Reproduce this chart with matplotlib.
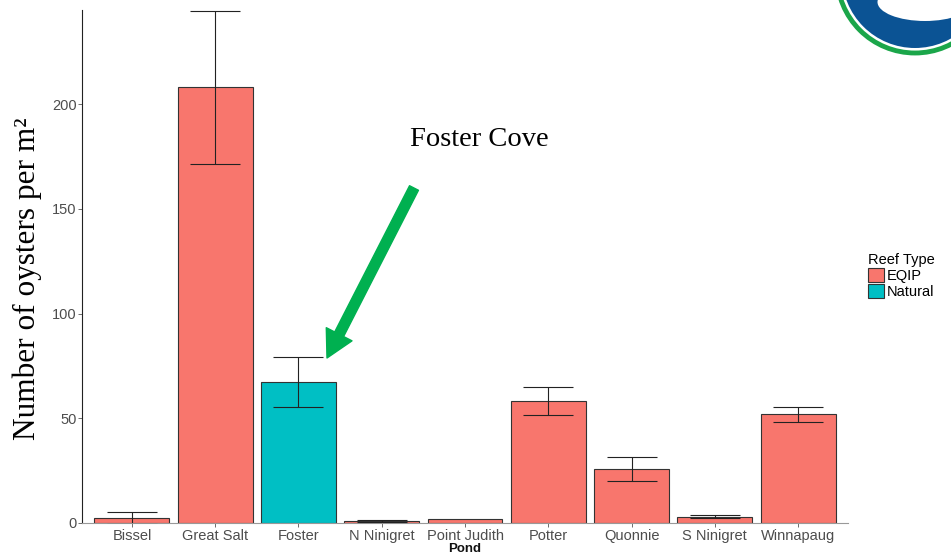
import matplotlib.pyplot as plt
from matplotlib.patches import Circle, Ellipse, Patch
import numpy as np

# Oyster density by pond, mean +/- standard error
ponds = ["Bissel", "Great Salt", "Foster", "N Ninigret", "Point Judith",
         "Potter", "Quonnie", "S Ninigret", "Winnapaug"]
reef_type = ["EQIP", "EQIP", "Natural", "EQIP", "EQIP",
             "EQIP", "EQIP", "EQIP", "EQIP"]
density = [2.5, 208, 67.3, 1.0, 1.7, 58.2, 25.8, 3.0, 52.0]
std_err = [2.8, 36.5, 11.9, 0.4, np.nan, 6.7, 5.7, 0.7, 3.6]

type_colors = {"EQIP": "#F8766D", "Natural": "#00BFC4"}

plt.rcParams['font.family'] = ['Liberation Sans', 'DejaVu Sans']

fig = plt.figure(figsize=(9.51, 5.53), dpi=100)
ax = fig.add_axes([82 / 951, 30 / 553, (848 - 82) / 951, (523 - 10) / 553])

x = np.arange(len(ponds))
colors = [type_colors[t] for t in reef_type]
ax.bar(x, density, width=0.9, color=colors, edgecolor="#333333", linewidth=0.8, zorder=2)

# error bars only where a standard error exists
se = np.array(std_err)
ok = ~np.isnan(se)
ax.errorbar(x[ok], np.array(density)[ok], yerr=se[ok], fmt="none",
            ecolor="#222222", elinewidth=0.8, capsize=18, capthick=0.8, zorder=3)

ax.set_xlim(-0.6, len(ponds) - 0.4)
ax.set_ylim(0, 245)
ax.set_yticks([0, 50, 100, 150, 200])
ax.set_xticks(x)
ax.set_xticklabels(ponds)
ax.tick_params(axis="both", colors="#555555", labelcolor="#4D4D4D",
               labelsize=10.5, length=3, width=0.6, pad=1)
for s in ["top", "right"]:
    ax.spines[s].set_visible(False)
ax.spines["left"].set_color("#222222")
ax.spines["left"].set_linewidth(0.8)
ax.spines["bottom"].set_color("#999999")
ax.spines["bottom"].set_linewidth(0.8)

fig.text(465 / 951, 1 - 551.5 / 553, "Pond", ha="center", va="baseline",
         fontsize=9.5, fontweight="bold", color="#111111")
fig.text(27 / 951, 1 - 279 / 553, "Number of oysters per m²", rotation=90,
         ha="center", va="center", fontsize=22.5, family="Liberation Serif")

# legend for reef type
handles = [Patch(facecolor=type_colors[k], edgecolor="#333333", linewidth=0.8, label=k)
           for k in type_colors]
leg = fig.legend(handles=handles, title="Reef Type", loc="upper left",
                 bbox_to_anchor=(858 / 951, 1 - 243 / 553), frameon=False,
                 fontsize=10.5, title_fontsize=10.5, handlelength=1.1, handleheight=1.1,
                 handletextpad=0.2, labelspacing=0.05, borderpad=0.2)
leg._legend_box.align = "left"

# callout for Foster Cove
fig.text(479 / 951, 1 - 139 / 553, "Foster Cove", ha="center", va="center",
         fontsize=20.5, family="Liberation Serif")
ax.annotate("", xy=(327, 553 - 358), xycoords="figure pixels",
            xytext=(414, 553 - 188), textcoords="figure pixels",
            arrowprops=dict(arrowstyle="simple,head_length=1.2,head_width=1.3,tail_width=0.45",
                            color="#00B050", shrinkA=0, shrinkB=0, mutation_scale=16))

# logo in the corner
lax = fig.add_axes([0, 0, 1, 1], zorder=5)
lax.set_xlim(0, 951)
lax.set_ylim(553, 0)
lax.axis("off")
lax.add_patch(Circle((915, -25), 78, facecolor="white", edgecolor="#1BA64A", linewidth=3.5))
lax.add_patch(Circle((915, -25), 73, facecolor="#0B5394", edgecolor="none"))
lax.add_patch(Ellipse((925, 2), 95, 38, facecolor="white", edgecolor="none"))

fig.savefig("out.png", dpi=100)
